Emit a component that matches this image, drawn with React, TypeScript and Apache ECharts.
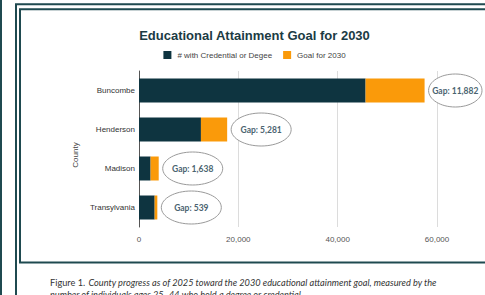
import React, { useEffect, useRef } from "react";
import * as echarts from "echarts";

const counties = ["Buncombe", "Henderson", "Madison", "Transylvania"];
const credentialed = [45618, 12470, 2330, 3150];
const gaps = [11882, 5281, 1638, 539];
const xMax = 60000;
const xInterval = 20000;

const DARK = "#0e3440";
const ORANGE = "#fa9a0a";
const FRAME = "#1f4a50";

export default function App() {
  const ref = useRef<HTMLDivElement>(null);

  useEffect(() => {
    document.body.style.margin = "0";
    const chart = echarts.init(ref.current!, null, { renderer: "svg" });
    const gapData = counties.map((_, i) => [credentialed[i] + gaps[i], i, gaps[i]]);
    const option: any = {
      animation: false,
      backgroundColor: "#fff",
      title: {
        text: "Educational Attainment Goal for 2030",
        left: "center",
        top: 24,
        textStyle: {
          fontFamily: "Liberation Sans, Arial, sans-serif",
          fontSize: 13,
          fontWeight: "bold",
          color: "#1b3b44",
        },
      },
      legend: {
        data: ["# with Credential or Degee", "Goal for 2030"],
        left: "center",
        top: 46,
        itemWidth: 8,
        itemHeight: 8,
        itemGap: 11,
        icon: "rect",
        textStyle: {
          fontFamily: "Liberation Sans, Arial, sans-serif",
          fontSize: 8,
          color: "#444",
          padding: [0, 0, 0, 1],
        },
      },
      grid: { left: 139, top: 71, width: 298, height: 156, containLabel: false },
      xAxis: {
        type: "value",
        min: 0,
        max: xMax,
        interval: xInterval,
        axisLine: { show: false },
        axisTick: { show: false },
        splitLine: { show: true, lineStyle: { color: "#dcdcdc", width: 1 } },
        axisLabel: {
          margin: 8,
          fontFamily: "Liberation Sans, Arial, sans-serif",
          fontSize: 8,
          color: "#555",
          formatter: (v: number) => v.toLocaleString("en-US"),
        },
      },
      yAxis: {
        type: "category",
        data: counties,
        inverse: true,
        name: "County",
        nameLocation: "middle",
        nameGap: 58,
        nameTextStyle: {
          fontFamily: "Liberation Sans, Arial, sans-serif",
          fontSize: 8,
          color: "#444",
          padding: [0, 12, 0, 0],
        },
        axisLine: { show: true, lineStyle: { color: "#555", width: 1 } },
        axisTick: { show: false },
        axisLabel: {
          margin: 4,
          fontFamily: "Liberation Sans, Arial, sans-serif",
          fontSize: 8,
          color: "#333",
        },
      },
      series: [
        {
          name: "# with Credential or Degee",
          type: "bar",
          stack: "total",
          barWidth: 24,
          itemStyle: { color: DARK },
          data: credentialed,
        },
        {
          name: "Goal for 2030",
          type: "bar",
          stack: "total",
          barWidth: 24,
          itemStyle: { color: ORANGE },
          data: gaps,
        },
        {
          name: "gapLabels",
          type: "custom",
          encode: { x: 0, y: 1 },
          data: gapData,
          z: 10,
          clip: false,
          renderItem: (params: any, api: any) => {
            const p = api.coord([api.value(0), api.value(1)]);
            const start = p[0] + 4;
            const rx = Math.min(30, (482 - start) / 2);
            const cx = start + rx;
            const cy = p[1];
            const g = api.value(2) as number;
            return {
              type: "group",
              children: [
                {
                  type: "ellipse",
                  shape: { cx, cy, rx, ry: 16.5 },
                  style: { fill: "#fff", stroke: "#9a9a9a", lineWidth: 1 },
                },
                {
                  type: "text",
                  style: {
                    text: "Gap: " + g.toLocaleString("en-US"),
                    x: cx,
                    y: cy,
                    align: "center",
                    verticalAlign: "middle",
                    fontFamily: "Lato, sans-serif",
                    fontWeight: "bold",
                    fontSize: 8.5,
                    fill: "#4b6470",
                  },
                },
              ],
            };
          },
        },
      ],
      graphic: [
        { type: "rect", shape: { x: 0, y: 0, width: 2, height: 295 }, style: { fill: FRAME } },
        {
          type: "rect",
          shape: { x: 16, y: 4.3, width: 700, height: 400 },
          style: { fill: "none", stroke: FRAME, lineWidth: 2 },
        },
        {
          type: "rect",
          shape: { x: 20, y: 9.3, width: 700, height: 253.2 },
          style: { fill: "none", stroke: FRAME, lineWidth: 2 },
        },
        {
          type: "text",
          left: 50,
          top: 276,
          style: {
            text:
              "{n|Figure 1.} {i|County progress as of 2025 toward the 2030 educational attainment goal, measured by the}\n{i|number of individuals ages 25–44 who hold a degree or credential.}",
            rich: {
              n: { fontFamily: "Lato, sans-serif", fontSize: 9.2, fill: "#333", lineHeight: 12 },
              i: {
                fontFamily: "Lato, sans-serif",
                fontStyle: "italic",
                fontSize: 9.2,
                fill: "#333",
                lineHeight: 12,
              },
            },
          },
        },
      ],
    };
    chart.setOption(option);
    return () => chart.dispose();
  }, []);

  return (
    <div style={{ position: "fixed", left: 0, top: 0, width: 485, height: 295, overflow: "hidden" }}>
      <div ref={ref} style={{ width: 509, height: 295 }} />
    </div>
  );
}
